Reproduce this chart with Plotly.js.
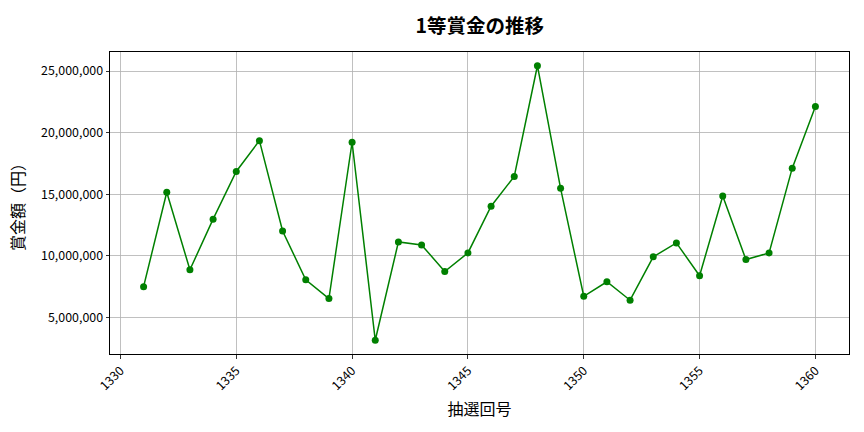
<!DOCTYPE html>
<html>
<head>
<meta charset="utf-8">
<script src="https://cdn.plot.ly/plotly-3.0.1.min.js"></script>
<style>
  html, body { margin: 0; padding: 0; background: #fff; }
  #chart { width: 864px; height: 432px; }
</style>
</head>
<body>
<div id="chart"></div>
<script>
/* 1等賞金の推移 */

const DRAWS = [
    1331, 1332, 1333, 1334, 1335, 1336, 1337, 1338, 1339, 1340,
    1341, 1342, 1343, 1344, 1345, 1346, 1347, 1348, 1349, 1350,
    1351, 1352, 1353, 1354, 1355, 1356, 1357, 1358, 1359, 1360,
];
const PRIZES = [
    7500000, 15160000, 8870000, 12980000, 16850000, 19350000, 12020000, 8060000, 6530000, 19220000,
    3150000, 11130000, 10890000, 8730000, 10240000, 14030000, 16450000, 25430000, 15480000, 6720000,
    7900000, 6400000, 9920000, 11050000, 8390000, 14860000, 9700000, 10240000, 17120000, 22120000,
];
const X_TICKS = [1330, 1335, 1340, 1345, 1350, 1355, 1360];
const Y_TICKS = [5000000, 10000000, 15000000, 20000000, 25000000];

const FONT = '"Noto Sans CJK JP", "Noto Sans", sans-serif';
const GRID = '#b0b0b0';

const trace = {
    x: DRAWS,
    y: PRIZES,
    mode: 'lines+markers',
    line: { color: 'green', width: 1.5 },
    marker: { color: 'green', size: 7 },
    hoverinfo: 'x+y',
};

const axisBase = {
    showline: true, mirror: true, linecolor: '#000', linewidth: 1,
    showgrid: true, gridcolor: GRID, gridwidth: 0.8,
    zeroline: false,
    ticks: 'outside', ticklen: 3.5, tickwidth: 0.8, tickcolor: '#000',
    tickfont: { family: FONT, size: 12.4, color: '#000' },
};

const layout = {
    width: 864, height: 432,
    margin: { l: 110, r: 15, t: 52, b: 78 },
    paper_bgcolor: '#fff', plot_bgcolor: '#fff',
    font: { family: FONT, color: '#000' },
    showlegend: false,
    title: {
        text: '<b>1等賞金の推移</b>',
        font: { family: FONT, size: 19.5, color: '#000' },
        x: 0.5553, xanchor: 'center', y: 0.94, yanchor: 'middle',
    },
    xaxis: Object.assign({}, axisBase, {
        range: [1329.55, 1361.45],
        tickvals: X_TICKS, ticktext: X_TICKS.map(String),
        tickangle: -45,
        title: { text: '抽選回号', font: { family: FONT, size: 16, color: '#000' }, standoff: 10 },
    }),
    yaxis: Object.assign({}, axisBase, {
        range: [2036000, 26544000],
        tickvals: Y_TICKS, ticktext: Y_TICKS.map(v => v.toLocaleString('en-US')),
        title: { text: '賞金額（円）', font: { family: FONT, size: 16, color: '#000' }, standoff: 12 },
    }),
};

Plotly.newPlot('chart', [trace], layout, { displayModeBar: false, staticPlot: true });
</script>
</body>
</html>
